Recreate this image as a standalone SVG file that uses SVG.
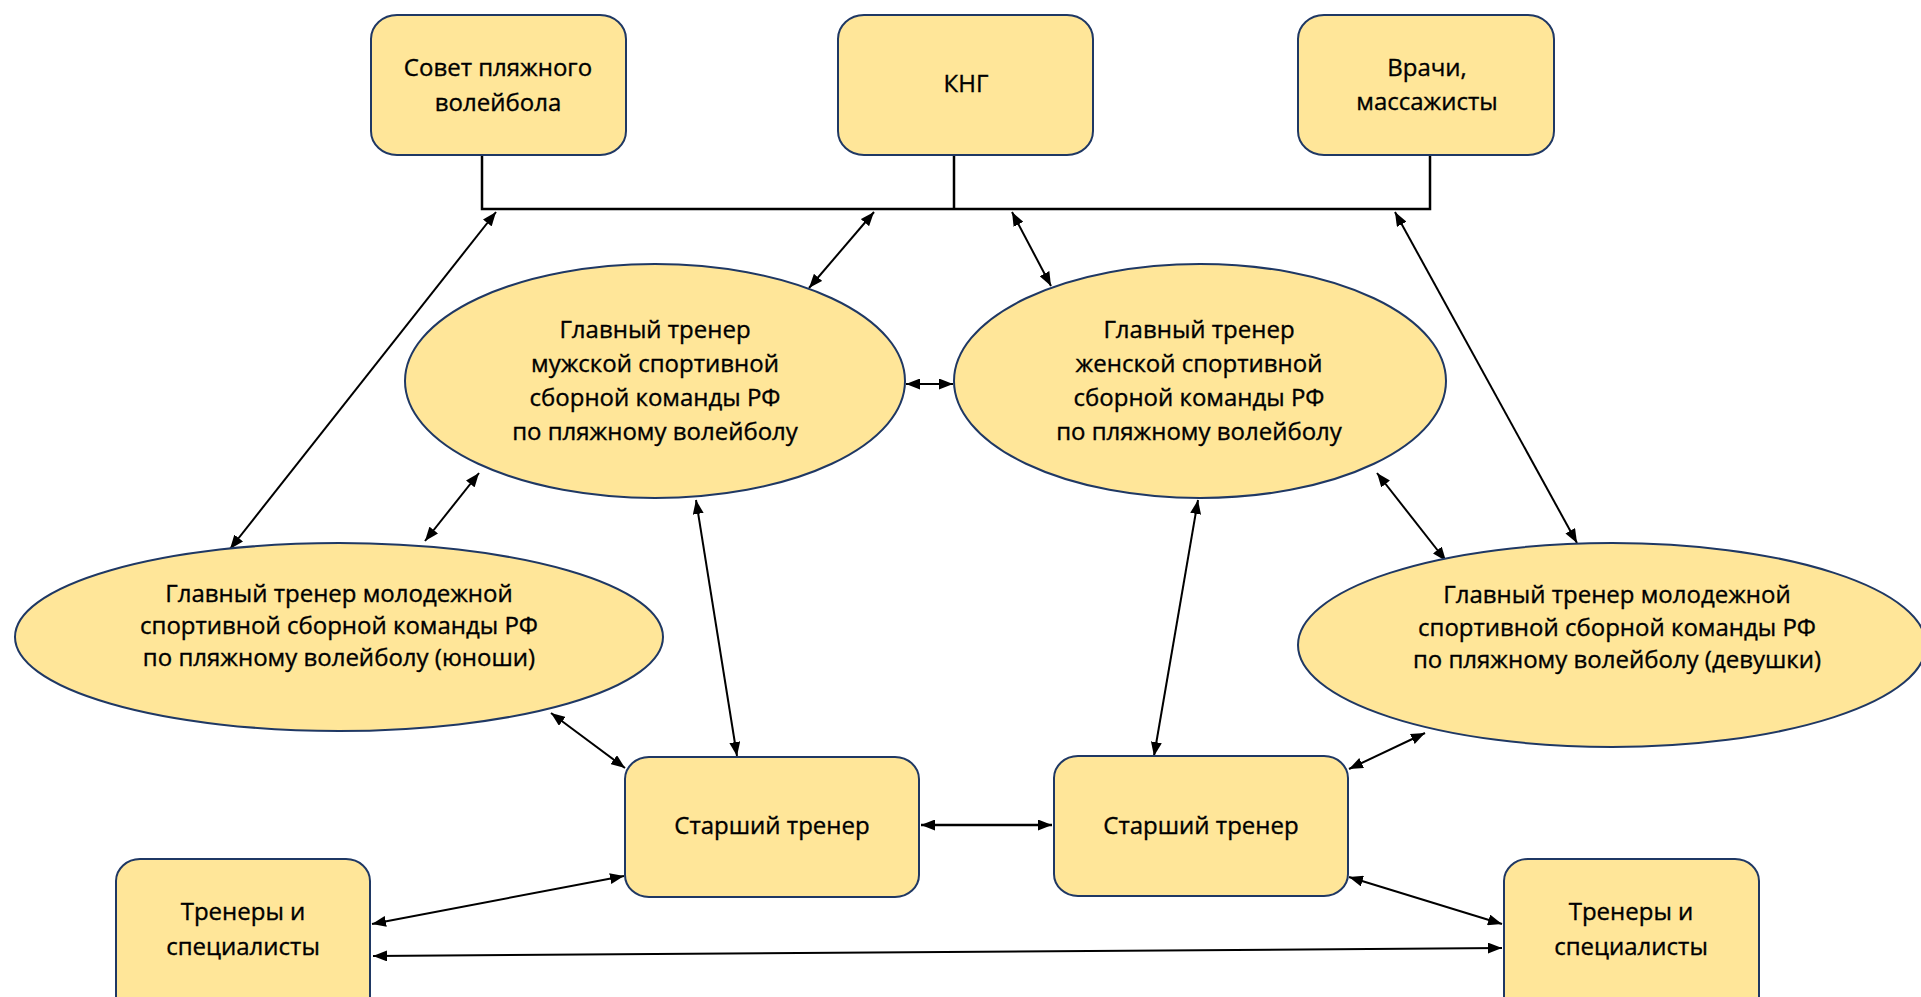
<svg xmlns="http://www.w3.org/2000/svg" width="1921" height="997" viewBox="0 0 1921 997">
<defs>
<marker id="ah" viewBox="0 0 14 11" refX="14" refY="5.5" markerWidth="14" markerHeight="11" markerUnits="userSpaceOnUse" orient="auto-start-reverse">
<path d="M0,0 L14,5.5 L0,11 z" fill="#000"/>
</marker>
</defs>
<style>
.box{fill:#FFE699;stroke:#1F3864;stroke-width:2}
.t{font-family:"Open Sans","Noto Sans",sans-serif;font-size:24px;fill:#000;stroke:#000;stroke-width:0.35;text-anchor:middle}
.c{stroke:#000;stroke-width:2;fill:none;marker-start:url(#ah);marker-end:url(#ah)}
.bus{stroke:#000;stroke-width:2.5;fill:none}
</style>
<rect width="1921" height="997" fill="#fff"/>

<g id="connectors">
<polyline class="bus" points="482,155 482,209 1430,209 1430,155"/>
<line class="bus" x1="954" y1="155" x2="954" y2="209"/>
<line class="c" x1="496" y1="212" x2="230" y2="549"/>
<line class="c" x1="874" y1="212" x2="809" y2="288"/>
<line class="c" x1="1012" y1="212" x2="1051" y2="286"/>
<line class="c" x1="1395" y1="212" x2="1577" y2="543"/>
<line class="c" x1="906" y1="384" x2="953" y2="384"/>
<line class="c" x1="479" y1="473" x2="425" y2="541"/>
<line class="c" x1="696" y1="500" x2="737" y2="756"/>
<line class="c" x1="1198" y1="500" x2="1154" y2="756"/>
<line class="c" x1="1377" y1="473" x2="1446" y2="561"/>
<line class="c" x1="551" y1="713" x2="625" y2="768"/>
<line class="c" x1="1425" y1="733" x2="1349" y2="769"/>
<line class="c" x1="921" y1="825" x2="1052" y2="825" style="stroke-width:2.5"/>
<line class="c" x1="624" y1="876" x2="372" y2="924"/>
<line class="c" x1="1349" y1="877" x2="1502" y2="924"/>
<line class="c" x1="373" y1="956" x2="1502" y2="948"/>
</g>

<g id="sovet">
<rect class="box" x="371" y="15" width="255" height="140" rx="26" ry="24"/>
<text class="t" x="498" y="76">Совет пляжного</text>
<text class="t" x="498" y="111">волейбола</text>
</g>
<g id="kng">
<rect class="box" x="838" y="15" width="255" height="140" rx="26" ry="24"/>
<text class="t" x="966" y="92">КНГ</text>
</g>
<g id="vrachi">
<rect class="box" x="1298" y="15" width="256" height="140" rx="26" ry="24"/>
<text class="t" x="1427" y="76">Врачи,</text>
<text class="t" x="1427" y="110">массажисты</text>
</g>

<g id="men">
<ellipse class="box" cx="655" cy="381" rx="250" ry="117"/>
<text class="t" x="655" y="338">Главный тренер</text>
<text class="t" x="655" y="372">мужской спортивной</text>
<text class="t" x="655" y="406">сборной команды РФ</text>
<text class="t" x="655" y="440">по пляжному волейболу</text>
</g>
<g id="women">
<ellipse class="box" cx="1200" cy="381" rx="246" ry="117"/>
<text class="t" x="1199" y="338">Главный тренер</text>
<text class="t" x="1199" y="372">женской спортивной</text>
<text class="t" x="1199" y="406">сборной команды РФ</text>
<text class="t" x="1199" y="440">по пляжному волейболу</text>
</g>

<g id="youth">
<ellipse class="box" cx="339" cy="637" rx="324" ry="94"/>
<text class="t" x="339" y="602">Главный тренер молодежной</text>
<text class="t" x="339" y="634">спортивной сборной команды РФ</text>
<text class="t" x="339" y="666">по пляжному волейболу (юноши)</text>
</g>
<g id="girls">
<ellipse class="box" cx="1612" cy="645" rx="314" ry="102"/>
<text class="t" x="1617" y="603">Главный тренер молодежной</text>
<text class="t" x="1617" y="636">спортивной сборной команды РФ</text>
<text class="t" x="1617" y="668">по пляжному волейболу (девушки)</text>
</g>

<g id="senior-left">
<rect class="box" x="625" y="757" width="294" height="140" rx="24" ry="22"/>
<text class="t" x="772" y="834">Старший тренер</text>
</g>
<g id="senior-right">
<rect class="box" x="1054" y="756" width="294" height="140" rx="24" ry="22"/>
<text class="t" x="1201" y="834">Старший тренер</text>
</g>

<g id="coaches-left">
<rect class="box" x="116" y="859" width="254" height="160" rx="24" ry="22"/>
<text class="t" x="243" y="920">Тренеры и</text>
<text class="t" x="243" y="955">специалисты</text>
</g>
<g id="coaches-right">
<rect class="box" x="1504" y="859" width="255" height="160" rx="24" ry="22"/>
<text class="t" x="1631" y="920">Тренеры и</text>
<text class="t" x="1631" y="955">специалисты</text>
</g>
</svg>
